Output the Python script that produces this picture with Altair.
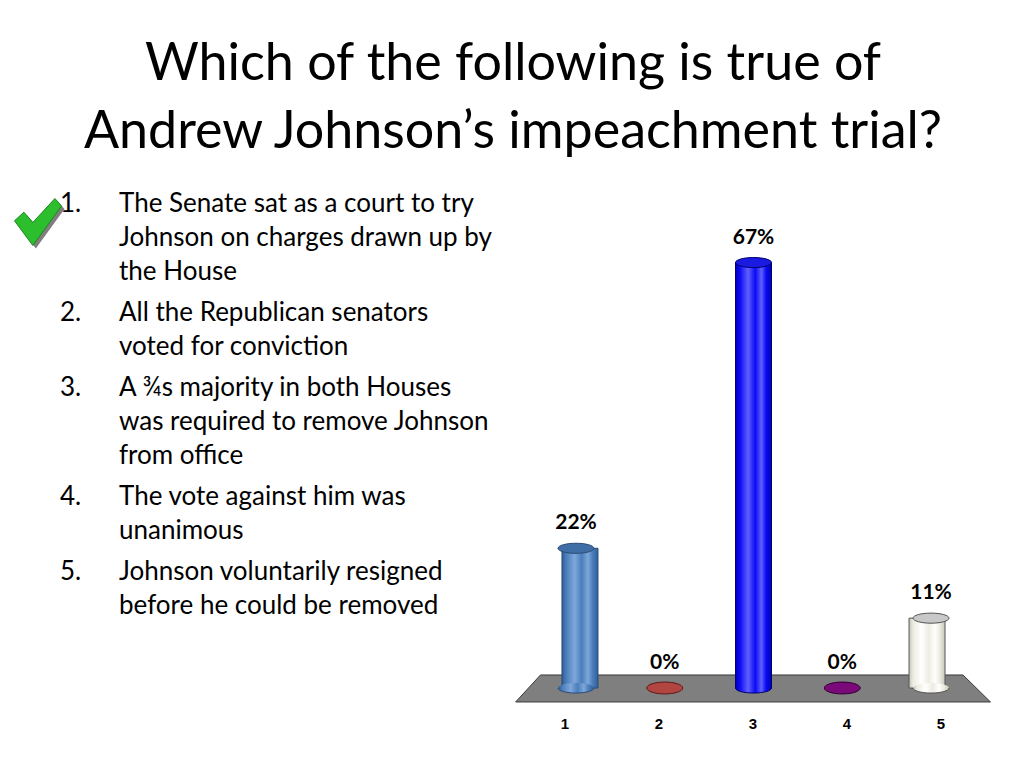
import altair as alt
import pandas as pd

# ---- data -------------------------------------------------------------
categories = [1, 2, 3, 4, 5]
values = [22, 0, 67, 0, 11]
labels = [f"{v}%" for v in values]

title_lines = ["Which of the following is true of", "Andrew Johnson\u2019s impeachment trial?"]
item_numbers = ["1.", "2.", "3.", "4.", "5."]
items = [
    "The Senate sat as a court to try\nJohnson on charges drawn up by\nthe House",
    "All the Republican senators\nvoted for conviction",
    "A \u00bes majority in both Houses\nwas required to remove Johnson\nfrom office",
    "The vote against him was\nunanimous",
    "Johnson voluntarily resigned\nbefore he could be removed",
]

# cylinder styles: (base, light, dark, top, stroke)
styles = {
    1: ("#4A7EBB", "#7FA7D9", "#2F5F98", "#3F6EA6", "#2B4C74"),
    2: ("#C0504D", "#D07070", "#8F2F2D", "#B04541", "#5A1A18"),
    3: ("#0A0AF5", "#6060FF", "#0000B0", "#1A1AE0", "#000070"),
    4: ("#800080", "#A040A0", "#500050", "#7A0A7A", "#300030"),
    5: ("#EEECE1", "#FFFFFF", "#C9C7BC", "#C8C8C8", "#555555"),
}

# floor (decoration) corners in data units
floor_df = pd.DataFrame({"fy": [2.05, -2.2], "fx1": [0.60, 0.32], "fx2": [5.36, 5.67]})

df = pd.DataFrame({"cat": categories, "value": values, "label": labels})

W, H = 1008, 752
xscale = alt.Scale(domain=[0.5, 5.5], range=[523.6, 967.4])
lscale = alt.Scale(domain=[0.5, 5.5], range=[510, 980])
yscale = alt.Scale(domain=[0, 100], range=[680, 45])

ELLIPSE = "M -1 0 A 1 0.28 0 1 0 1 0 A 1 0.28 0 1 0 -1 0 Z"
LOWER_ARC = "M -1 0 A 1 0.28 0 0 0 1 0"
DISC = "M -1 0 A 1 0.33 0 1 0 1 0 A 1 0.33 0 1 0 -1 0 Z"
CHECK = "M -1 -0.05 L -0.6 -0.42 L -0.22 0.02 L 0.72 -1 L 1 -0.68 L -0.22 1 Z"
FONT = "Lato"

X = alt.X("cat:Q", scale=xscale, axis=None)

layers = []
layers.append(
    alt.Chart(floor_df)
    .mark_area(orient="horizontal", color="#7F7F7F", stroke="#3A3A3A", strokeWidth=1, opacity=1)
    .encode(y=alt.Y("fy:Q", scale=yscale, axis=None), x=alt.X("fx1:Q", scale=xscale, axis=None), x2="fx2:Q")
)

for c, v in zip(categories, values):
    base_c, light, dark, top, stroke = styles[c]
    base = alt.Chart(df).transform_filter(alt.datum.cat == c).transform_calculate(zero="0")
    Y0 = alt.Y("zero:Q", scale=yscale, axis=None)
    if v > 0:
        grad = alt.LinearGradient(
            gradient="linear", x1=0, x2=1, y1=0, y2=0,
            stops=[
                alt.GradientStop(color=dark, offset=0),
                alt.GradientStop(color=base_c, offset=0.12),
                alt.GradientStop(color=light, offset=0.35),
                alt.GradientStop(color=base_c, offset=0.55),
                alt.GradientStop(color=light, offset=0.72),
                alt.GradientStop(color=base_c, offset=0.85),
                alt.GradientStop(color=dark, offset=1),
            ],
        )
        layers.append(
            base.mark_bar(size=36, color=grad, stroke=stroke, strokeWidth=1)
            .encode(x=X, y=alt.Y("value:Q", scale=yscale, axis=None), y2="zero:Q")
        )
        # rounded bottom: filled ellipse hiding the flat edge, then the lower arc outline
        layers.append(
            base.mark_point(shape=ELLIPSE, size=1296, filled=True, fill=grad,
                            strokeWidth=0, opacity=1)
            .encode(x=X, y=Y0)
        )
        layers.append(
            base.mark_point(shape=LOWER_ARC, size=1296, filled=False, stroke=stroke,
                            strokeWidth=1, opacity=1)
            .encode(x=X, y=Y0)
        )
        layers.append(
            base.mark_point(shape=ELLIPSE, size=1296, filled=True, fill=top,
                            stroke=stroke, strokeWidth=1, opacity=1)
            .encode(x=X, y=alt.Y("value:Q", scale=yscale, axis=None))
        )
    else:
        layers.append(
            base.mark_point(shape=DISC, size=1296, filled=True, fill=top,
                            stroke=stroke, strokeWidth=1, opacity=1)
            .encode(x=X, y=Y0)
        )

layers.append(
    alt.Chart(df).mark_text(font=FONT, fontWeight="bold", fontSize=21, dy=-25, color="black")
    .encode(x=X, y=alt.Y("value:Q", scale=yscale, axis=None), text="label:N")
)

# axis category labels
layers.append(
    alt.Chart(df).mark_text(font="Liberation Sans", fontWeight="bold", fontSize=15, color="black")
    .encode(x=alt.X("cat:Q", scale=lscale, axis=None), y=alt.value(716), text="cat:N")
)

# title
for i, line in enumerate(title_lines):
    layers.append(
        alt.Chart(pd.DataFrame({"t": [line]})).mark_text(font=FONT, fontSize=52, align="center",
                                                       baseline="alphabetic", color="black")
        .encode(x=alt.value(505), y=alt.value(72 + 68 * i), text="t:N")
    )

# bullet list
y0 = 204
for num, txt in zip(item_numbers, items):
    nlines = txt.count("\n") + 1
    layers.append(
        alt.Chart(pd.DataFrame({"t": [num]})).mark_text(font=FONT, fontSize=26, align="left",
                                                      baseline="alphabetic", color="black")
        .encode(x=alt.value(52), y=alt.value(y0), text="t:N")
    )
    layers.append(
        alt.Chart(pd.DataFrame({"t": [txt]})).mark_text(font=FONT, fontSize=26, align="left",
                                                      baseline="alphabetic", lineBreak="\n",
                                                      lineHeight=34, color="black")
        .encode(x=alt.value(111), y=alt.value(y0), text="t:N")
    )
    y0 += nlines * 34 + 7

# check mark with shadow
one = pd.DataFrame({"a": [0]})
layers.append(
    alt.Chart(one).mark_point(shape=CHECK, size=2209, filled=True, fill="#7F7F7F", opacity=1)
    .encode(x=alt.value(33), y=alt.value(217))
)
layers.append(
    alt.Chart(one).mark_point(shape=CHECK, size=2209, filled=True, fill="#2DBE2D",
                              stroke="#1A8A1A", strokeWidth=1, opacity=1)
    .encode(x=alt.value(30), y=alt.value(214))
)

chart = (
    alt.layer(*layers)
    .resolve_scale(x="independent")
    .properties(width=W, height=H, padding=0,
                autosize=alt.AutoSizeParams(type="fit", contains="padding"))
    .configure_view(stroke=None)
)

chart.save("out.html", embed_options={"renderer": "svg", "actions": False})
